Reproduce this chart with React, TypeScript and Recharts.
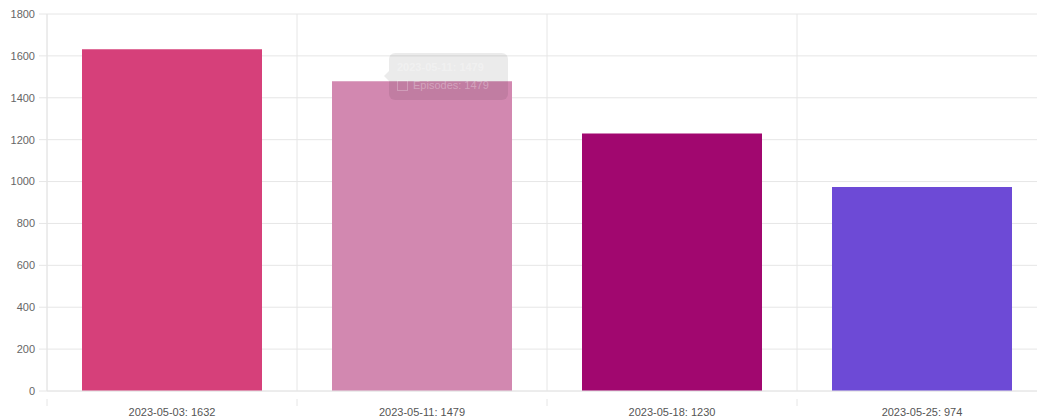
import React from 'react';
import { BarChart, Bar, XAxis, YAxis, CartesianGrid, Cell } from 'recharts';

const dates = ['2023-05-03', '2023-05-11', '2023-05-18', '2023-05-25'];
const counts = [1632, 1479, 1230, 974];
const colors = ['#d6407a', '#d288b0', '#a1076f', '#6d4ad6'];
const yTicks = [0, 200, 400, 600, 800, 1000, 1200, 1400, 1600, 1800];

const data = dates.map((d, i) => ({ label: `${d}: ${counts[i]}`, count: counts[i] }));

const GRID = '#e6e6e6';

function XTick(props: any) {
  const { x, y, payload } = props;
  const band = 250;
  const left = x - band / 2;
  return (
    <g>
      <line x1={left} x2={left} y1={y} y2={y + 7} stroke={GRID} />
      <text x={x} y={y + 17} textAnchor="middle" fontSize={11} fill="#555" fontFamily="Liberation Sans, Arial, sans-serif">
        {payload.value}
      </text>
    </g>
  );
}

export default function App() {
  return (
    <div style={{ position: 'absolute', left: 0, top: 0, width: 1037, height: 419, overflow: 'hidden', background: '#fff' }}>
      <BarChart width={1047} height={419} data={data} margin={{ top: 14, right: 0, left: 0, bottom: 0 }} barSize={180}>
        <CartesianGrid
          stroke={GRID}
          verticalCoordinatesGenerator={({ offset }: any) =>
            [0, 1, 2, 3].map((i) => offset.left + (i * offset.width) / 4)
          }
        />
        <XAxis
          dataKey="label"
          height={28}
          axisLine={{ stroke: GRID }}
          tickLine={false}
          interval={0}
          tick={<XTick />}
        />
        <YAxis
          width={47}
          domain={[0, 1800]}
          ticks={yTicks}
          axisLine={{ stroke: GRID }}
          tickLine={{ stroke: GRID }}
          tickSize={8}
          tickMargin={4}
          tick={{ fontSize: 11, fill: '#666', fontFamily: 'Liberation Sans, Arial, sans-serif' }}
        />
        <Bar dataKey="count" isAnimationActive={false}>
          {data.map((d, i) => (
            <Cell key={d.label} fill={colors[i]} />
          ))}
        </Bar>
      </BarChart>
      {/* faded tooltip left over on the second bar */}
      <div
        style={{
          position: 'absolute',
          left: 389,
          top: 53,
          width: 119,
          height: 47,
          borderRadius: 6,
          background: 'rgba(0,0,0,0.08)',
          fontFamily: 'Liberation Sans, Arial, sans-serif',
          fontSize: 11,
          color: 'rgba(255,255,255,0.3)',
          boxSizing: 'border-box',
          padding: '5px 8px',
          lineHeight: '18px',
        }}
      >
        <div style={{ fontWeight: 'bold' }}>2023-05-11: 1479</div>
        <div style={{ display: 'flex', alignItems: 'center' }}>
          <span style={{ display: 'inline-block', width: 9, height: 9, border: '1px solid rgba(255,255,255,0.25)', marginRight: 5 }} />
          Episodes: 1479
        </div>
        <div
          style={{
            position: 'absolute',
            left: -5,
            top: 18,
            width: 0,
            height: 0,
            borderTop: '5px solid transparent',
            borderBottom: '5px solid transparent',
            borderRight: '5px solid rgba(0,0,0,0.08)',
          }}
        />
      </div>
    </div>
  );
}
